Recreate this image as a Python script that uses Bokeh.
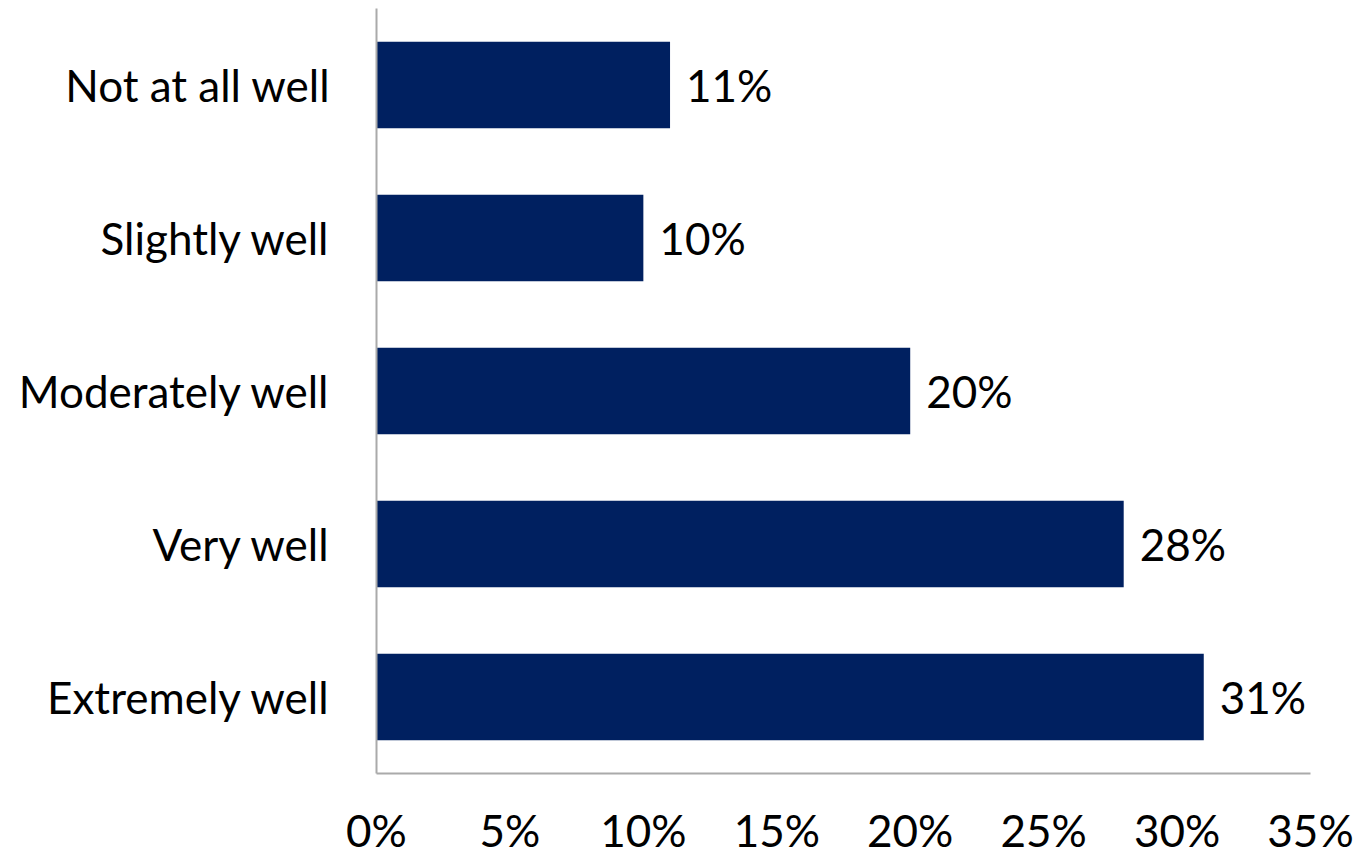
from bokeh.plotting import figure
from bokeh.models import ColumnDataSource, FactorRange, Range1d, FixedTicker, NumeralTickFormatter
from bokeh.embed import file_html
from bokeh.resources import INLINE
from bokeh.core.properties import value

categories = ["Not at all well", "Slightly well", "Moderately well", "Very well", "Extremely well"]
shares = [0.11, 0.10, 0.20, 0.28, 0.31]
labels = ["11%", "10%", "20%", "28%", "31%"]
ticks = [0, 0.05, 0.10, 0.15, 0.20, 0.25, 0.30, 0.35]

FONT = "Lato"
FS = "44px"
src = ColumnDataSource(dict(cat=categories, v=shares, lab=labels))

p = figure(width=1360, height=858, output_backend="svg", toolbar_location=None,
           y_range=FactorRange(factors=categories[::-1], range_padding=0),
           x_range=Range1d(0, 0.35),
           min_border_left=376, min_border_right=50, min_border_top=8, min_border_bottom=85)
p.hbar(y="cat", right="v", left=0, height=0.565, source=src, color="#002060", line_color=None)
p.text(x="v", y="cat", text="lab", source=src, x_offset=16, text_baseline="middle",
       text_align="left", text_font=value(FONT), text_font_size=FS, text_color="#000000")

p.xgrid.visible = False
p.ygrid.visible = False
p.outline_line_color = None

p.xaxis.ticker = FixedTicker(ticks=ticks)
p.xaxis.formatter = NumeralTickFormatter(format="0%")
p.xaxis.major_tick_line_color = None
p.xaxis.minor_tick_line_color = None
p.xaxis.axis_line_color = "#aaaaaa"
p.xaxis.axis_line_width = 2
p.xaxis.major_label_standoff = 24
p.xaxis.major_label_text_font = FONT
p.xaxis.major_label_text_font_size = FS
p.xaxis.major_label_text_color = "#000000"

p.yaxis.major_tick_line_color = None
p.yaxis.minor_tick_line_color = None
p.yaxis.axis_line_color = "#aaaaaa"
p.yaxis.axis_line_width = 2
p.yaxis.major_label_standoff = 40
p.yaxis.major_label_text_font = FONT
p.yaxis.major_label_text_font_size = FS
p.yaxis.major_label_text_color = "#000000"

open("out.html", "w").write(file_html(p, INLINE))
